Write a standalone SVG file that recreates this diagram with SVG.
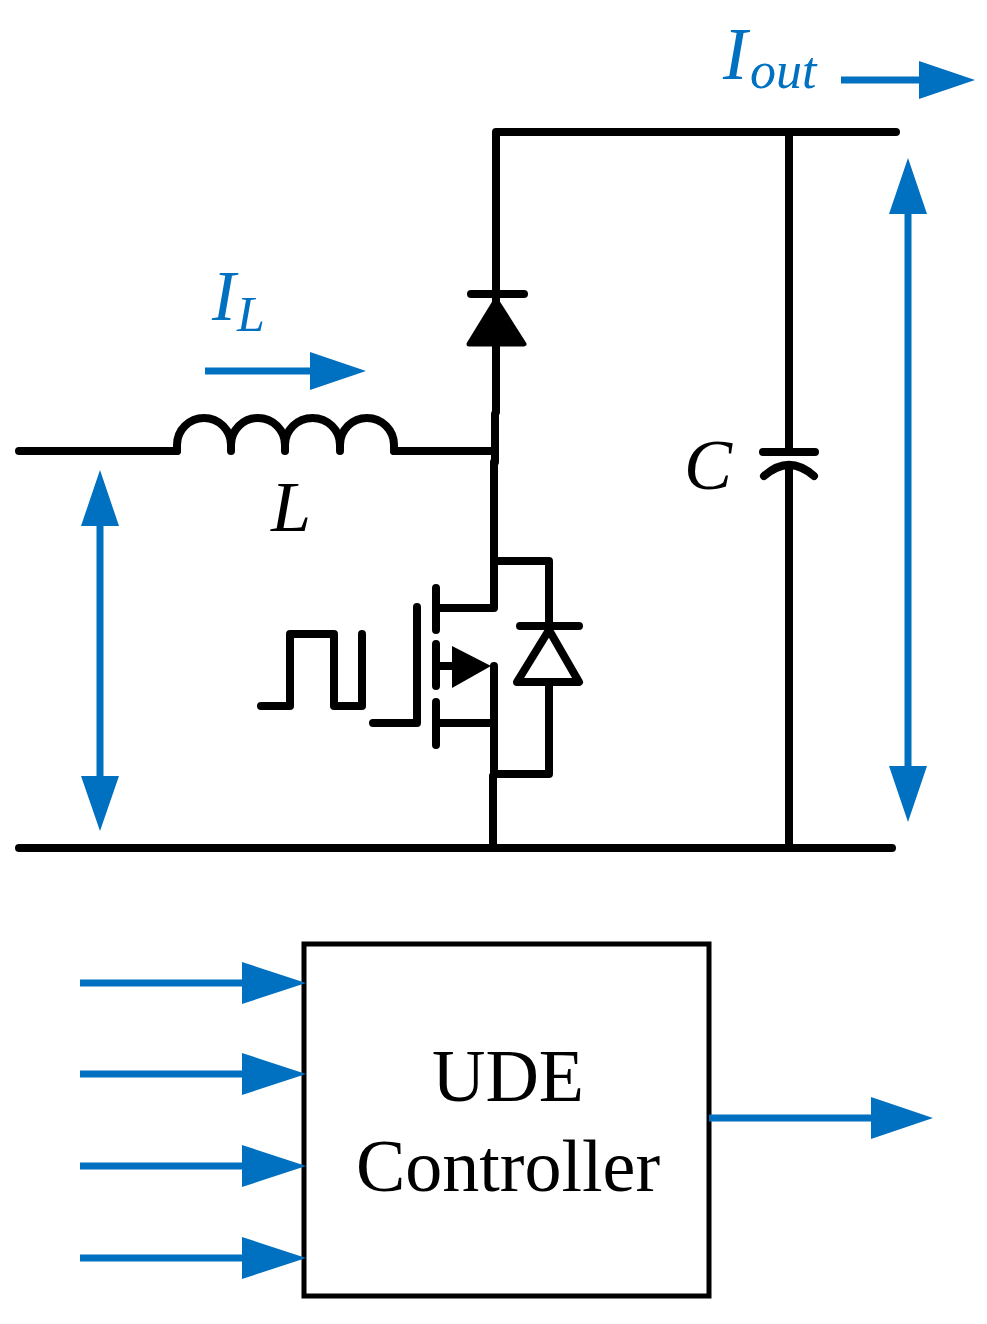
<svg xmlns="http://www.w3.org/2000/svg" width="987" height="1324" viewBox="0 0 987 1324">
<style>
.k{fill:none;stroke:#000;stroke-width:8;stroke-linecap:round;stroke-linejoin:round}
.b{fill:none;stroke:#0070c0;stroke-width:7}
.h{fill:#0070c0;stroke:none}
.t{font-family:"Liberation Serif",serif;font-size:74px;fill:#000}
.i{font-family:"Liberation Serif",serif;font-style:italic;fill:#000}
.bt{fill:#0070c0}
</style>
<rect width="987" height="1324" fill="#fff"/>
<g id="connectors">
<path class="k" d="M496 412V132H896M789 132V452M789 466V847M19 848H892M493 848V776M495 414V462M494 462V608H436M19 451H177M394 451H494M494 666V774M494 561H549V625M494 774H549V684"/>
</g>
<g id="inductor"><path class="k" d="M177 451V445A27 27 0 0 1 231 445V451V445A27 27 0 0 1 285 445V451V445A27.500 27 0 0 1 340 445V451V445A27 27 0 0 1 394 445V451"/></g>
<g id="diode"><path d="M496 300L524 344H469Z" fill="#000" stroke="#000" stroke-width="5" stroke-linejoin="round"/><path class="k" d="M471 294H524"/></g>
<g id="capacitor"><path class="k" d="M763 452H815M764 476Q789 454 814 476"/></g>
<g id="mosfet">
<path class="k" d="M373 723H417V607M436 588V630M436 644V686M436 702V745M436 723H494M436 666H458"/>
<path d="M452 646L491 666L452 688Z" fill="#000"/>
<path class="k" d="M549 630L579 682H517ZM520 626H579"/>
</g>
<g id="pulse"><path class="k" d="M261 706H290V634H334V706H362V634"/></g>
<g id="controller"><rect x="304" y="944" width="405" height="352" fill="none" stroke="#000" stroke-width="5"/>
<text class="t" x="508" y="1101" text-anchor="middle">UDE</text>
<text class="t" x="508" y="1191" text-anchor="middle">Controller</text></g>
<g id="blue-arrows">
<path class="b" d="M841 80H925M205 371H315M100 520V782M908 210V772M80 983H248M80 1074H248M80 1166H248M80 1258H248M709 1118H876"/>
<path class="h" d="M975 80L919 61V99ZM366 371L310 352V390ZM100 470L81 526H119ZM100 831L81 776H119ZM908 158L889 214H927ZM908 822L889 766H927ZM306 983L242 962V1004ZM306 1074L242 1053V1095ZM306 1166L242 1145V1187ZM306 1258L242 1237V1279ZM933 1118L871 1097V1139Z"/>
</g>
<g id="labels">
<text class="i bt" x="723" y="79" font-size="73">I</text><text class="i bt" x="750" y="88" font-size="52">out</text>
<text class="i bt" x="212" y="320" font-size="71">I</text><text class="i bt" x="237" y="331" font-size="50">L</text>
<text class="i" x="271" y="531" font-size="72">L</text>
<text class="i" x="684" y="489" font-size="72">C</text>
</g>
</svg>
